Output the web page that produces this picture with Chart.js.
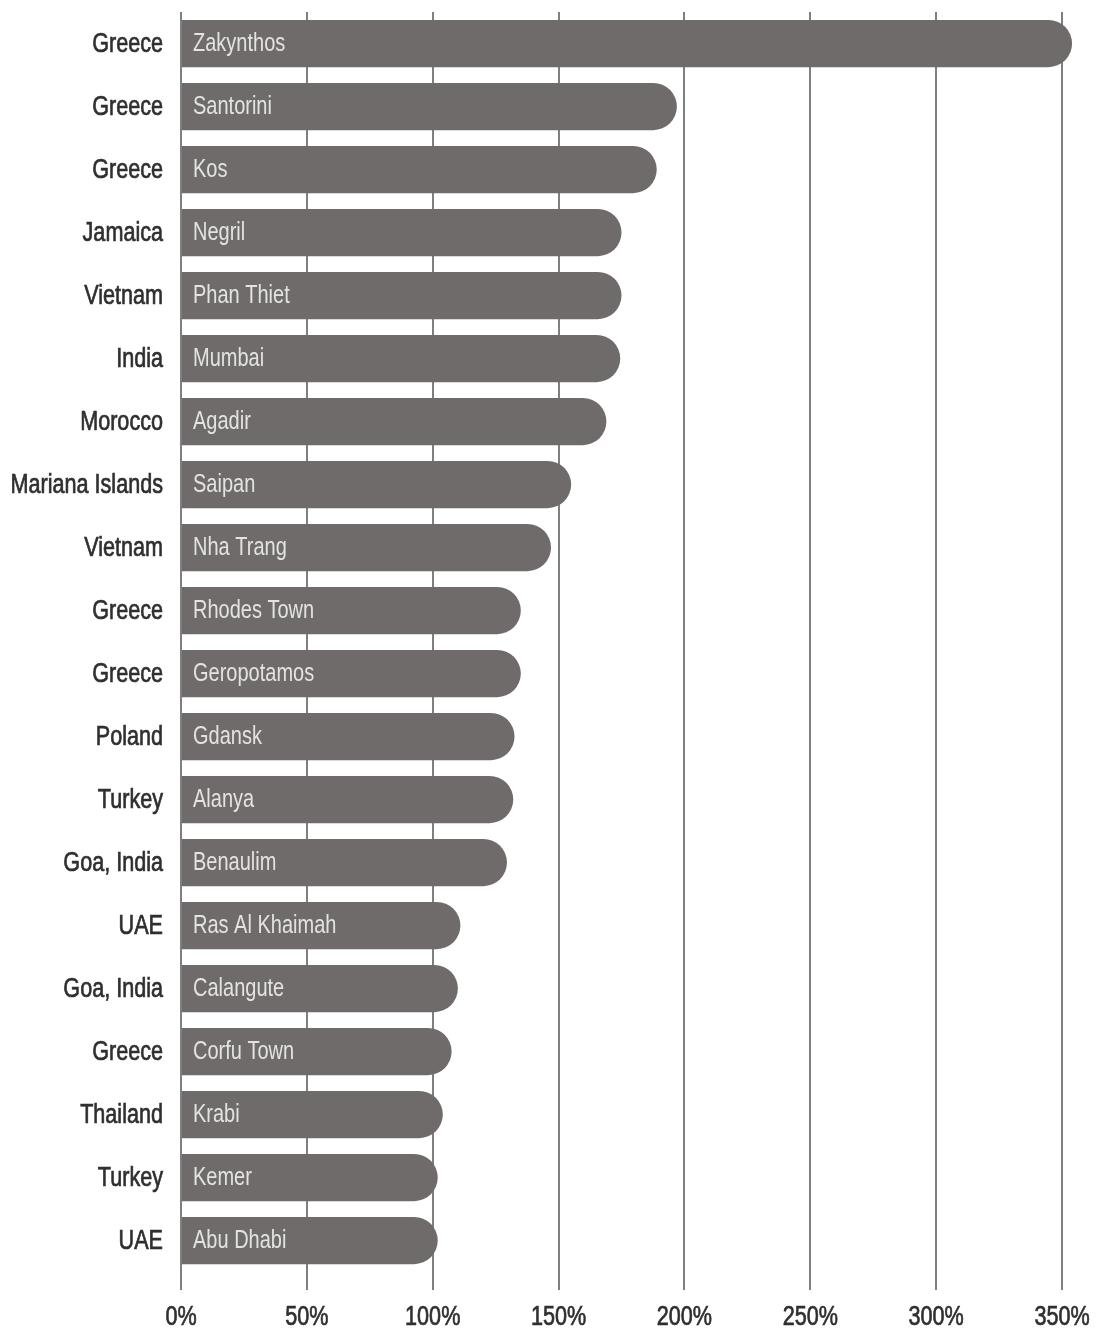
<!DOCTYPE html>
<html>
<head>
<meta charset="utf-8">
<script src="https://cdn.jsdelivr.net/npm/chart.js@4/dist/chart.umd.min.js"></script>
<style>
  html, body { margin: 0; padding: 0; background: #fff; }
  #wrap { width: 1097px; height: 1334px; position: relative; }
</style>
</head>
<body>
<div id="wrap"><canvas id="resortChart"></canvas></div>
<script>
// Datos
const countries = ["Greece", "Greece", "Greece", "Jamaica", "Vietnam", "India", "Morocco", "Mariana Islands",
    "Vietnam", "Greece", "Greece", "Poland", "Turkey", "Goa, India", "UAE", "Goa, India", "Greece",
    "Thailand", "Turkey", "UAE"];
const cities = ["Zakynthos", "Santorini", "Kos", "Negril", "Phan Thiet", "Mumbai", "Agadir", "Saipan",
    "Nha Trang", "Rhodes Town", "Geropotamos", "Gdansk", "Alanya", "Benaulim", "Ras Al Khaimah",
    "Calangute", "Corfu Town", "Krabi", "Kemer", "Abu Dhabi"];
const increases = [354, 197, 189, 175, 175, 174.5, 169, 155, 147, 135, 135, 132.5, 132, 129.5, 111, 110,
    107.5, 104, 102, 102];
const tickValues = [0, 50, 100, 150, 200, 250, 300, 350];

// fuente estrecha: Liberation Sans comprimida horizontalmente
const FONT = '"Liberation Sans", Arial, sans-serif';
const SQUEEZE = 0.8;

function squeezedText(ctx, text, x, y, align) {
    ctx.save();
    ctx.translate(x, y);
    ctx.scale(SQUEEZE, 1);
    ctx.textAlign = align;
    ctx.fillText(text, 0, 0);
    if (ctx.lineWidth > 0 && ctx.strokeStyle !== '#000000') ctx.strokeText(text, 0, 0);
    ctx.restore();
}

// Etiquetas de ejes y nombres de ciudad
const textLabels = {
    id: 'textLabels',
    afterDatasetsDraw(chart) {
        const ctx = chart.ctx;
        const meta = chart.getDatasetMeta(0);
        const area = chart.chartArea;
        ctx.save();
        ctx.textBaseline = 'middle';

        // ciudades dentro de las barras
        ctx.font = '25px ' + FONT;
        ctx.fillStyle = '#e4e2e2';
        ctx.strokeStyle = '#000000';
        meta.data.forEach(function (bar, i) {
            squeezedText(ctx, cities[i], area.left + 12, bar.y + 1, 'left');
        });

        // países (eje y)
        ctx.font = '27px ' + FONT;
        ctx.fillStyle = '#2f2f2f';
        ctx.strokeStyle = '#2f2f2f';
        ctx.lineWidth = 0.7;
        meta.data.forEach(function (bar, i) {
            squeezedText(ctx, countries[i], area.left - 18, bar.y + 1, 'right');
        });

        // porcentajes (eje x)
        const xs = chart.scales.x;
        ctx.font = '27px ' + FONT;
        tickValues.forEach(function (v) {
            squeezedText(ctx, v + '%', xs.getPixelForValue(v), 1318, 'center');
        });
        ctx.restore();
    }
};

const ctx = document.getElementById('resortChart').getContext('2d');
const resortChart = new Chart(ctx, {
    type: 'bar',
    data: {
        labels: countries,
        datasets: [{
            data: increases,
            backgroundColor: '#6f6b6b',
            borderWidth: 0,
            borderRadius: 24,
            borderSkipped: 'start',
            barPercentage: 0.75,
            categoryPercentage: 1,
            clip: false
        }]
    },
    options: {
        indexAxis: 'y',
        responsive: true,
        maintainAspectRatio: false,
        animation: false,
        layout: {
            padding: { left: 0, right: 35, top: 12, bottom: 0 }
        },
        scales: {
            x: {
                min: 0,
                max: 350,
                afterFit: function (scale) { scale.height = 62; },
                afterBuildTicks: function (scale) {
                    scale.ticks = tickValues.map(function (v) { return { value: v }; });
                },
                grid: {
                    color: '#7f7f7f',
                    lineWidth: 2,
                    drawTicks: true,
                    tickLength: 18
                },
                border: { display: false },
                ticks: { display: false }
            },
            y: {
                afterFit: function (scale) { scale.width = 181; },
                grid: { display: false, drawTicks: false },
                border: { display: false },
                ticks: { display: false }
            }
        },
        plugins: {
            legend: { display: false },
            tooltip: { enabled: false }
        }
    },
    plugins: [textLabels]
});
</script>
</body>
</html>
